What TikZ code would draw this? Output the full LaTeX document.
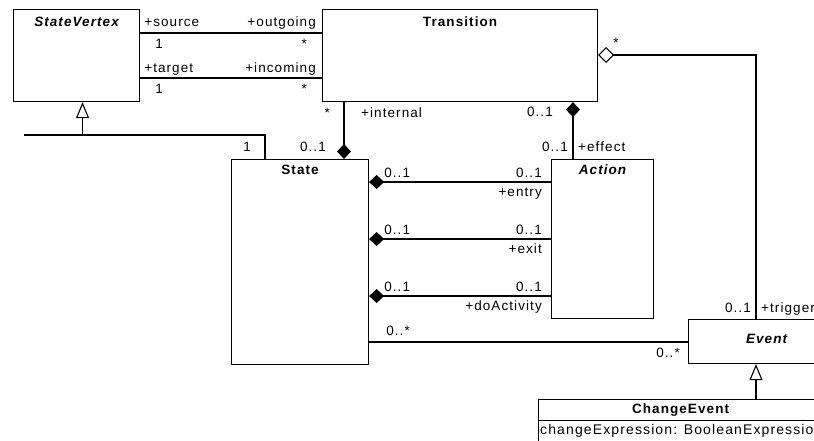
\documentclass[tikz,border=0pt]{standalone}
\usepackage{fontspec}
\setmainfont[LetterSpace=8]{Liberation Sans}
\usetikzlibrary{arrows.meta}

\tikzset{
  umlbox/.style={draw, line width=1.1pt, inner sep=0pt, anchor=north west},
  clsname/.style={font=\fontsize{13.5}{15}\selectfont\bfseries, anchor=base, inner sep=0pt},
  absname/.style={clsname, font=\fontsize{13.5}{15}\selectfont\bfseries\itshape},
  lbl/.style={font=\fontsize{13.5}{15}\selectfont, inner sep=0pt},
  assoc/.style={line width=1.1pt},
  comp/.style={assoc, -{Diamond[length=15pt,width=14pt]}},
  aggr/.style={assoc, -{Diamond[open,length=16pt,width=16pt]}},
  gen/.style={assoc, -{Triangle[open,length=16pt,width=13pt]}},
}

\begin{document}
\begin{tikzpicture}[x=1pt, y=-1pt]
    \useasboundingbox (0,0) rectangle (814,440);
    \clip (0,0) rectangle (814,440);

    % Classes
    \node[umlbox, minimum width=126, minimum height=92] (sv) at (13,9) {};
    \node[umlbox, minimum width=275, minimum height=92] (tr) at (322,9) {};
    \node[umlbox, minimum width=137, minimum height=205] (st) at (231,159) {};
    \node[umlbox, minimum width=102, minimum height=159] (act) at (551,159) {};
    \node[umlbox, minimum width=156, minimum height=44] (ev) at (688,319) {};
    \node[umlbox, minimum width=284, minimum height=50] (ce) at (538,399) {};

    % Class names
    \node[absname] (svname) at ([yshift=-17]sv.north) {StateVertex};
    \node[clsname] (trname) at ([yshift=-17]tr.north) {Transition};
    \node[clsname] (stname) at ([yshift=-15]st.north) {State};
    \node[absname] (actname) at ([yshift=-15]act.north) {Action};
    \node[absname] (evname) at ([yshift=-24]ev.north) {Event};
    \node[clsname] (cename) at ([yshift=-14]ce.north) {ChangeEvent};

    % Attribute compartment of ChangeEvent
    \coordinate (cesep) at ([yshift=-21.5]ce.north west);
    \draw[assoc] (cesep) -- (cesep -| ce.east);
    \node[lbl, anchor=base west, font=\fontsize{14}{16}\selectfont] (ceattr)
      at ([xshift=2,yshift=-35]ce.north west) {changeExpression: BooleanExpression};

    % source / target
    \draw[assoc] ([yshift=-24]sv.north east) -- ([yshift=-24]tr.north west);
    \draw[assoc] ([yshift=-69]sv.north east) -- ([yshift=-69]tr.north west);
    \node[lbl, anchor=base west] (src) at ([xshift=4,yshift=-17]sv.north east) {+source};
    \node[lbl, anchor=base west] (srcm) at ([xshift=15,yshift=-39]sv.north east) {1};
    \node[lbl, anchor=base east] (outg) at ([xshift=-6,yshift=-17]tr.north west) {+outgoing};
    \node[lbl, anchor=base east] (outgm) at ([xshift=-15,yshift=-39]tr.north west) {*};
    \node[lbl, anchor=base west] (tgt) at ([xshift=4,yshift=-63]sv.north east) {+target};
    \node[lbl, anchor=base west] (tgtm) at ([xshift=15,yshift=-84]sv.north east) {1};
    \node[lbl, anchor=base east] (inc) at ([xshift=-6,yshift=-63]tr.north west) {+incoming};
    \node[lbl, anchor=base east] (incm) at ([xshift=-15,yshift=-84]tr.north west) {*};

    % State is a StateVertex
    \coordinate (gleft) at (24,135);
    \coordinate (gjoin) at ([xshift=6,yshift=-34]sv.south);
    \draw[assoc] ([xshift=34]st.north west) |- (gleft);
    \draw[gen] (gjoin) -- ([xshift=6]sv.south);
    \node[lbl, anchor=base east] (genm) at ([xshift=20,yshift=8]st.north west) {1};

    % internal transitions
    \coordinate (intl) at ([xshift=22]tr.south west);
    \draw[comp] (intl) -- (intl |- st.north);
    \node[lbl, anchor=base east] (intlm) at ([xshift=-14,yshift=-15.5]intl) {*};
    \node[lbl, anchor=base west] (intlr) at ([xshift=17,yshift=-15]intl) {+internal};
    \node[lbl, anchor=base east] (intls) at ([xshift=-18,yshift=-49]intl) {0..1};

    % effect
    \coordinate (eff) at ([xshift=22]act.north west);
    \draw[comp] (eff) -- (eff |- tr.south);
    \node[lbl, anchor=base east] (efft) at ([xshift=-20,yshift=43]eff) {0..1};
    \node[lbl, anchor=base east] (effm) at ([xshift=-5,yshift=7.5]eff) {0..1};
    \node[lbl, anchor=base west] (effr) at ([xshift=5,yshift=7.5]eff) {+effect};

    % entry, exit, doActivity
    \foreach \dy/\role in {23/entry, 80/exit, 137/doActivity}{
        \coordinate (\role-a) at ([yshift=-\dy]act.north west);
        \coordinate (\role-s) at (\role-a -| st.east);
        \draw[comp] (\role-a) -- (\role-s);
        \node[lbl, anchor=base west] (\role-sm) at ([xshift=15,yshift=5]\role-s) {0..1};
        \node[lbl, anchor=base east] (\role-am) at ([xshift=-9,yshift=5]\role-a) {0..1};
        \node[lbl, anchor=base east] (\role-r) at ([xshift=-9,yshift=-14]\role-a) {+\role};
    }

    % State -- Event
    \coordinate (evin) at ([yshift=-23]ev.north west);
    \coordinate (stout) at (evin -| st.east);
    \draw[assoc] (evin) -- (stout);
    \node[lbl, anchor=base west] (stoutm) at ([xshift=17,yshift=7]stout) {0..*};
    \node[lbl, anchor=base east] (evinm) at ([xshift=-8,yshift=-15]evin) {0..*};

    % trigger
    \coordinate (trig) at ([xshift=68]ev.north west);
    \draw[aggr] (trig) |- ([yshift=-46]tr.north east);
    \node[lbl, anchor=base east] (trigm) at ([xshift=-5,yshift=7]trig) {0..1};
    \node[lbl, anchor=base west] (trigr) at ([xshift=5,yshift=7]trig) {+trigger};
    \node[lbl, anchor=base west] (trm) at ([xshift=15,yshift=-38.5]tr.north east) {*};

    % ChangeEvent is an Event
    \coordinate (cetop) at ([xshift=218]ce.north west);
    \draw[gen] (cetop) -- (cetop |- ev.south);
\end{tikzpicture}
\end{document}
